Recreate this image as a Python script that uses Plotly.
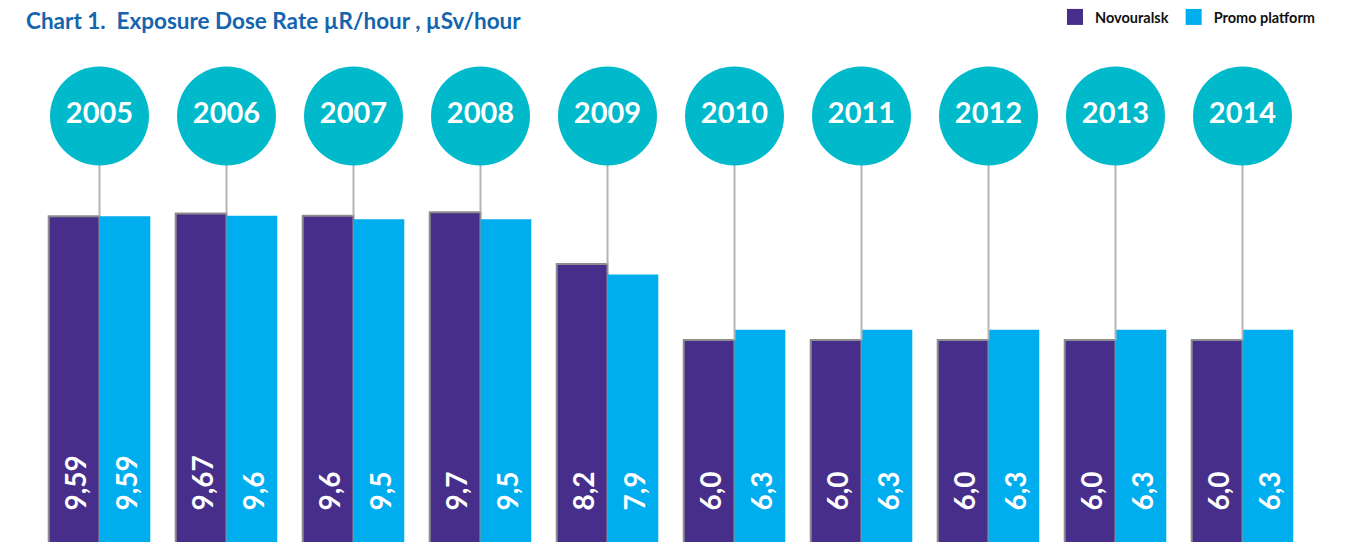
import plotly.graph_objects as go

years = ["2005", "2006", "2007", "2008", "2009", "2010", "2011", "2012", "2013", "2014"]
novouralsk = [9.59, 9.67, 9.6, 9.7, 8.2, 6.0, 6.0, 6.0, 6.0, 6.0]
promo = [9.59, 9.6, 9.5, 9.5, 7.9, 6.3, 6.3, 6.3, 6.3, 6.3]
novouralsk_labels = ["9,59", "9,67", "9,6", "9,7", "8,2", "6,0", "6,0", "6,0", "6,0", "6,0"]
promo_labels = ["9,59", "9,6", "9,5", "9,5", "7,9", "6,3", "6,3", "6,3", "6,3", "6,3"]

PURPLE = "#482e8b"
CYAN = "#00adee"
TEAL = "#00bacb"
GREY_LINE = "#b4b4b4"
TITLE_BLUE = "#1565ae"

CIRCLE_Y = 12.49
LABEL_Y = 1.0

fig = go.Figure()

fig.add_trace(go.Bar(
    x=years, y=novouralsk, name="Novouralsk",
    marker=dict(color=PURPLE, line=dict(color="#8e8e8e", width=2)),
    showlegend=False, hoverinfo="skip",
))
fig.add_trace(go.Bar(
    x=years, y=promo, name="Promo platform",
    marker=dict(color=CYAN, line=dict(width=0)),
    showlegend=False, hoverinfo="skip",
))

# connector lines from circles to bars
for yr, v in zip(years, novouralsk):
    fig.add_trace(go.Scatter(
        x=[yr, yr], y=[v, CIRCLE_Y], mode="lines",
        line=dict(color=GREY_LINE, width=2),
        showlegend=False, hoverinfo="skip",
    ))

# year circles
fig.add_trace(go.Scatter(
    x=years, y=[CIRCLE_Y] * len(years), mode="markers+text",
    marker=dict(size=99, color=TEAL, line=dict(width=0)),
    text=years, textposition="middle center",
    textfont=dict(family="Lato", size=29, color="white", weight="bold"),
    showlegend=False, hoverinfo="skip",
))

# legend entries
fig.add_trace(go.Scatter(
    x=[years[0]], y=[-5], mode="markers", name="Novouralsk",
    marker=dict(symbol="square", size=16, color=PURPLE),
))
fig.add_trace(go.Scatter(
    x=[years[0]], y=[-5], mode="markers", name="Promo platform",
    marker=dict(symbol="square", size=16, color=CYAN),
))

annotations = []
for i, lab in enumerate(novouralsk_labels):
    annotations.append(dict(
        x=i, y=LABEL_Y, xref="x", yref="y", text=lab, textangle=-90,
        xshift=-25, xanchor="center", yanchor="bottom", showarrow=False,
        font=dict(family="Lato", size=28, color="white", weight="bold"),
    ))
for i, lab in enumerate(promo_labels):
    annotations.append(dict(
        x=i, y=LABEL_Y, xref="x", yref="y", text=lab, textangle=-90,
        xshift=26, xanchor="center", yanchor="bottom", showarrow=False,
        font=dict(family="Lato", size=28, color="white", weight="bold"),
    ))

fig.update_layout(
    width=1345, height=542,
    margin=dict(l=28, r=47, t=0, b=0, autoexpand=False),
    paper_bgcolor="white", plot_bgcolor="white",
    barmode="group", bargap=0.2, bargroupgap=0,
    title=dict(
        text="<b>Chart 1.  Exposure Dose Rate µR/hour , µSv/hour</b>",
        font=dict(family="Lato", size=22.5, color=TITLE_BLUE),
        x=18 / 1345, xanchor="left", xref="container",
        y=1 - 13 / 542, yanchor="middle", yref="container",
    ),
    legend=dict(
        orientation="h", xref="paper", yref="paper",
        x=(1047 - 28) / 1270, xanchor="left", y=1 - 9 / 542, yanchor="middle",
        font=dict(family="Lato", size=14.5, color="#111111", weight="bold"),
        bgcolor="rgba(0,0,0,0)", itemwidth=30, tracegroupgap=0,
    ),
    xaxis=dict(type="category", categoryorder="array", categoryarray=years,
               range=[-0.5, len(years) - 0.5], autorange=False,
               showgrid=False, showticklabels=False, zeroline=False,
               showline=False, fixedrange=True),
    yaxis=dict(range=[-0.087, 15.623], autorange=False, showgrid=False, showticklabels=False,
               zeroline=False, showline=False, fixedrange=True),
    annotations=annotations,
    showlegend=True,
)

fig.write_html("out.html")
